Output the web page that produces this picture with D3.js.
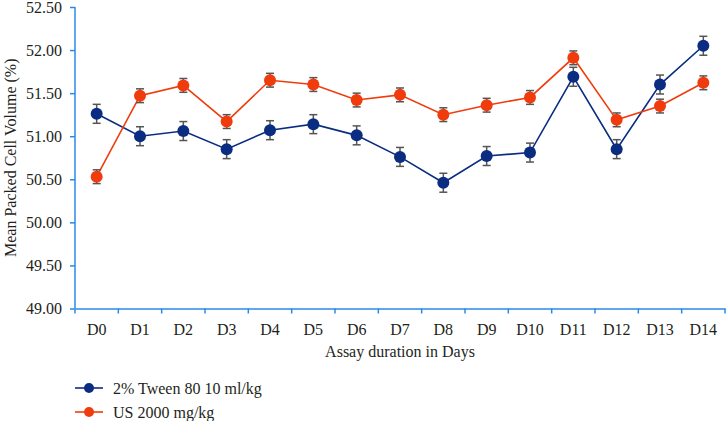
<!DOCTYPE html>
<html>
<head>
<meta charset="utf-8">
<script src="https://cdn.jsdelivr.net/npm/d3@7"></script>
<style>
  body { margin: 0; background: #fff; }
  svg text { font-family: "Liberation Serif", "Times New Roman", serif; fill: #231f20; }
</style>
</head>
<body>
<div id="chart"></div>
<script>
var days = ["D0", "D1", "D2", "D3", "D4", "D5", "D6", "D7", "D8", "D9", "D10", "D11", "D12", "D13", "D14"];
var tweenMean = [51.26, 51.00, 51.06, 50.85, 51.07, 51.14, 51.01, 50.76, 50.46, 50.77, 50.81, 51.69, 50.85, 51.60, 52.05];
var tweenErr  = [0.11, 0.11, 0.11, 0.11, 0.11, 0.11, 0.11, 0.11, 0.11, 0.11, 0.11, 0.11, 0.11, 0.11, 0.11];
var usMean = [50.53, 51.47, 51.59, 51.17, 51.65, 51.60, 51.42, 51.48, 51.25, 51.36, 51.45, 51.91, 51.19, 51.35, 51.62];
var usErr  = [0.08, 0.08, 0.08, 0.08, 0.08, 0.08, 0.08, 0.08, 0.08, 0.08, 0.08, 0.08, 0.08, 0.08, 0.08];
var yTicks = [49.00, 49.50, 50.00, 50.50, 51.00, 51.50, 52.00, 52.50];
var seriesNames = ["2% Tween 80 10 ml/kg", "US 2000 mg/kg"];

var color = ["#0a2d82", "#f03c0c"];
var axisColor = "#2b8ae4";

var width = 727, height = 421;
var margin = {top: 7, right: 2, bottom: 113, left: 75};

var svg = d3.select("#chart")
            .append("svg")
            .attr("width", width)
            .attr("height", height);

var x = d3.scaleBand()
        .domain(days)
        .range([margin.left, width - margin.right])
        .padding(0);

var y = d3.scaleLinear()
        .domain([49, 52.5])
        .range([height - margin.bottom + 0.5, margin.top]);

// y axis
var yAxis = svg.append("g")
    .attr("transform", "translate(" + margin.left + ",0)")
    .call(d3.axisLeft(y).tickValues(yTicks).tickFormat(d3.format(".2f")).tickSize(5).tickPadding(8))
    .style("font", "16px 'Liberation Serif', serif");
yAxis.select(".domain").attr("stroke", axisColor).attr("stroke-width", 1.5).attr("d", "M0," + y(52.5) + "V" + y(49));
yAxis.selectAll(".tick line").attr("stroke", axisColor).attr("stroke-width", 1.5);
yAxis.selectAll(".tick text").attr("fill", "#231f20");

// x axis
var xAxis = svg.append("g")
    .attr("transform", "translate(0," + y(49) + ")")
    .call(d3.axisBottom(x).tickSize(0).tickPadding(15))
    .style("font", "16px 'Liberation Serif', serif");
xAxis.select(".domain").attr("stroke", axisColor).attr("stroke-width", 1.5);
xAxis.selectAll(".tick text").attr("fill", "#231f20");

var edges = days.map(d => x(d)).concat([x.range()[1]]);
xAxis.selectAll(".edge")
    .data(edges)
    .join("line")
    .attr("x1", d => d)
    .attr("x2", d => d)
    .attr("y1", 0)
    .attr("y2", 5)
    .attr("stroke", axisColor)
    .attr("stroke-width", 1.5);

// axis titles
svg.append("text")
    .attr("x", (margin.left + width - margin.right) / 2)
    .attr("y", 357)
    .attr("text-anchor", "middle")
    .style("font-size", "16px")
    .text("Assay duration in Days");

svg.append("text")
    .attr("transform", "rotate(-90)")
    .attr("x", -(y(49) + y(52.5)) / 2)
    .attr("y", 16)
    .attr("text-anchor", "middle")
    .style("font-size", "16px")
    .text("Mean Packed Cell Volume (%)");

// series
var series = [
    {name: seriesNames[0], mean: tweenMean, err: tweenErr, color: color[0]},
    {name: seriesNames[1], mean: usMean, err: usErr, color: color[1]}
];

var cx = d => x(d) + x.bandwidth() / 2;

series.forEach(function(s) {
    var pts = days.map((d, i) => ({day: d, v: s.mean[i], e: s.err[i]}));

    svg.append("path")
        .datum(pts)
        .attr("fill", "none")
        .attr("stroke", s.color)
        .attr("stroke-width", 1.6)
        .attr("d", d3.line().x(p => cx(p.day)).y(p => y(p.v)));

    var eb = svg.append("g").attr("stroke", "#555").attr("stroke-width", 1.5);
    eb.selectAll(".v").data(pts).join("line")
        .attr("x1", p => cx(p.day)).attr("x2", p => cx(p.day))
        .attr("y1", p => y(p.v - p.e)).attr("y2", p => y(p.v + p.e));
    eb.selectAll(".t").data(pts).join("line")
        .attr("x1", p => cx(p.day) - 4).attr("x2", p => cx(p.day) + 4)
        .attr("y1", p => y(p.v + p.e)).attr("y2", p => y(p.v + p.e));
    eb.selectAll(".b").data(pts).join("line")
        .attr("x1", p => cx(p.day) - 4).attr("x2", p => cx(p.day) + 4)
        .attr("y1", p => y(p.v - p.e)).attr("y2", p => y(p.v - p.e));

    svg.append("g")
        .selectAll("circle")
        .data(pts)
        .join("circle")
        .attr("cx", p => cx(p.day))
        .attr("cy", p => y(p.v))
        .attr("r", 6)
        .attr("fill", s.color);
});

// legend
var legend = svg.append("g")
    .selectAll("g")
    .data(series)
    .join("g")
    .attr("transform", (d, i) => "translate(75," + (388 + i * 24) + ")");

legend.append("line")
    .attr("x1", 0).attr("x2", 28)
    .attr("stroke", d => d.color)
    .attr("stroke-width", 1.6);
legend.append("circle")
    .attr("cx", 14)
    .attr("r", 5)
    .attr("fill", d => d.color);
legend.append("text")
    .attr("x", 38)
    .attr("y", 6)
    .style("font-size", "16px")
    .text(d => d.name);
</script>
</body>
</html>
